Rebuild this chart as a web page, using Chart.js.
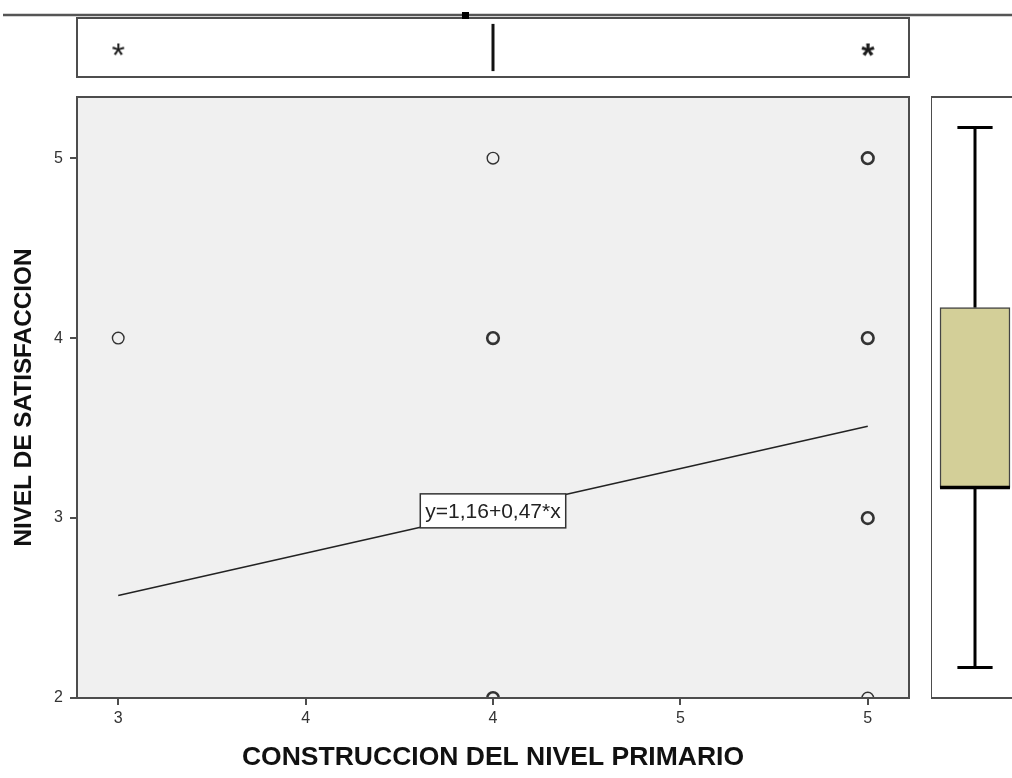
<!DOCTYPE html>
<html>
<head>
<meta charset="utf-8">
<script src="https://cdn.jsdelivr.net/npm/chart.js@4.4.1/dist/chart.umd.min.js"></script>
<style>
  html, body { margin: 0; padding: 0; background: #ffffff; width: 1012px; height: 778px; overflow: hidden; }
  #wrap { position: relative; width: 1012px; height: 778px; overflow: hidden; }
  canvas { position: absolute; }
</style>
</head>
<body>
<div id="wrap">
  <canvas id="main" width="1012" height="778" style="left:0;top:0"></canvas>
  <canvas id="top" width="1012" height="90" style="left:0;top:0"></canvas>
  <canvas id="right" width="88" height="620" style="left:931px;top:90px"></canvas>
</div>
<script>
// ---------------- DATA ----------------
const xTitle = 'CONSTRUCCION DEL NIVEL PRIMARIO';
const yTitle = 'NIVEL DE SATISFACCION';
const xTickValues = [3, 3.5, 4, 4.5, 5];
const xTickLabels = ['3', '4', '4', '5', '5'];
const yTickValues = [2, 3, 4, 5];
const yTickLabels = ['2', '3', '4', '5'];
const xRange = [2.89, 5.11];
const yRange = [2, 5.34];

// scatter points (x = construccion, y = satisfaccion) and overlap weight
const pointX = [3, 4, 4, 4, 5, 5, 5, 5];
const pointY = [4, 5, 4, 2, 5, 4, 3, 2];
const pointOverlap = [1, 1, 3, 2, 3, 3, 3, 1];

// fitted line
const fitX = [3, 5];
const fitY = [2.57, 3.51];
const fitLabel = 'y=1,16+0,47*x';
const fitLabelPos = [4, 3.04];

// top marginal boxplot (x variable)
const topMedian = 4;
const topExtremes = [3, 5];
const topExtremeBold = [false, true];

// right marginal boxplot (y variable)
const rightWhiskerLow = 2.17;
const rightQ1 = 3.17;
const rightMedian = 3.17;
const rightQ3 = 4.17;
const rightWhiskerHigh = 5.17;

// ---------------- STYLE ----------------
const FONT = "'Liberation Sans', Arial, Helvetica, sans-serif";
const FRAME = '#4d4d4d';
const MARK = '#333333';

Chart.defaults.font.family = FONT;
Chart.defaults.animation = false;

const framePlugin = {
  id: 'frame',
  beforeDraw(chart, args, opts) {
    const a = chart.chartArea, ctx = chart.ctx;
    ctx.save();
    ctx.fillStyle = opts.fill || '#ffffff';
    ctx.fillRect(a.left, a.top, a.right - a.left, a.bottom - a.top);
    ctx.restore();
  },
  afterDraw(chart, args, opts) {
    const a = chart.chartArea, ctx = chart.ctx;
    ctx.save();
    ctx.strokeStyle = FRAME;
    ctx.lineWidth = 2;
    ctx.strokeRect(a.left, a.top, a.right - a.left, a.bottom - a.top);
    ctx.restore();
  }
};

// ---------------- MAIN SCATTER ----------------
const fitLabelPlugin = {
  id: 'fitLabel',
  afterDatasetsDraw(chart) {
    const ctx = chart.ctx;
    const px = chart.scales.x.getPixelForValue(fitLabelPos[0]);
    const py = chart.scales.y.getPixelForValue(fitLabelPos[1]);
    ctx.save();
    ctx.font = '21px ' + FONT;
    const w = ctx.measureText(fitLabel).width + 10;
    const h = 34;
    ctx.fillStyle = '#ffffff';
    ctx.fillRect(px - w / 2, py - h / 2, w, h);
    ctx.strokeStyle = '#333333';
    ctx.lineWidth = 1.5;
    ctx.strokeRect(px - w / 2, py - h / 2, w, h);
    ctx.fillStyle = '#222222';
    ctx.textAlign = 'center';
    ctx.textBaseline = 'middle';
    ctx.fillText(fitLabel, px, py + 1);
    ctx.restore();
  }
};

new Chart(document.getElementById('main'), {
  type: 'scatter',
  data: {
    datasets: [
      {
        data: pointX.map((x, i) => ({ x, y: pointY[i] })),
        pointStyle: 'circle',
        pointRadius: 5.8,
        pointBackgroundColor: 'rgba(0,0,0,0)',
        pointBorderColor: MARK,
        pointBorderWidth: pointOverlap.map(c => c > 1 ? 2.6 : 1.4),
        clip: 0
      },
      {
        type: 'line',
        data: fitX.map((x, i) => ({ x, y: fitY[i] })),
        borderColor: '#222222',
        borderWidth: 1.5,
        pointRadius: 0,
        fill: false
      }
    ]
  },
  options: {
    responsive: false,
    devicePixelRatio: 1,
    layout: { padding: { top: 97, right: 103, left: 0, bottom: 0 } },
    plugins: {
      legend: { display: false },
      tooltip: { enabled: false },
      frame: { fill: '#f0f0f0' }
    },
    scales: {
      x: {
        type: 'linear',
        min: xRange[0], max: xRange[1],
        afterBuildTicks(s) { s.ticks = xTickValues.map(v => ({ value: v })); },
        afterFit(s) { s.height = 80; },
        ticks: {
          color: '#333333',
          font: { size: 16 },
          padding: 4,
          callback(v, i) { return xTickLabels[i]; }
        },
        grid: { display: true, drawOnChartArea: false, drawTicks: true, tickLength: 7, color: FRAME, lineWidth: 2 },
        border: { display: true, color: FRAME, width: 2 },
        title: { display: true, text: xTitle, color: '#111111', font: { size: 26.5, weight: 'bold' }, padding: { top: 0, bottom: 4 } }
      },
      y: {
        type: 'linear',
        min: yRange[0], max: yRange[1],
        afterBuildTicks(s) { s.ticks = yTickValues.map(v => ({ value: v })); },
        afterFit(s) { s.width = 77; },
        ticks: {
          color: '#333333',
          font: { size: 16 },
          padding: 7,
          callback(v, i) { return yTickLabels[i]; }
        },
        grid: { display: true, drawOnChartArea: false, drawTicks: true, tickLength: 7, color: FRAME, lineWidth: 2 },
        border: { display: true, color: FRAME, width: 2 },
        title: { display: true, text: yTitle, color: '#111111', font: { size: 24.3, weight: 'bold' }, padding: { top: 10, bottom: 0 } }
      }
    }
  },
  plugins: [framePlugin, fitLabelPlugin]
});

// ---------------- TOP BOXPLOT ----------------
function starImage(bold) {
  const c = document.createElement('canvas');
  c.width = 24; c.height = 24;
  const g = c.getContext('2d');
  g.fillStyle = '#1a1a1a';
  g.font = (bold ? 'bold ' : '') + '34px ' + FONT;
  g.textAlign = 'center';
  g.textBaseline = 'middle';
  g.fillText('*', 12, 22);
  return c;
}

const topDecor = {
  id: 'topDecor',
  afterDraw(chart) {
    const ctx = chart.ctx;
    ctx.save();
    ctx.strokeStyle = '#555555';
    ctx.lineWidth = 2.5;
    ctx.beginPath();
    ctx.moveTo(3, 15);
    ctx.lineTo(1012, 15);
    ctx.stroke();
    ctx.fillStyle = '#000000';
    ctx.fillRect(462, 12, 7, 7);
    ctx.restore();
  }
};

new Chart(document.getElementById('top'), {
  type: 'scatter',
  data: {
    datasets: [
      {
        data: topExtremes.map(x => ({ x, y: 0.5 })),
        pointStyle: topExtremeBold.map(b => starImage(b)),
        pointRadius: 12
      },
      {
        type: 'line',
        data: [{ x: topMedian, y: 0.1 }, { x: topMedian, y: 0.9 }],
        borderColor: '#111111',
        borderWidth: 3,
        pointRadius: 0,
        fill: false
      }
    ]
  },
  options: {
    responsive: false,
    devicePixelRatio: 1,
    layout: { padding: { top: 18, right: 103, left: 77, bottom: 10 } },
    plugins: { legend: { display: false }, tooltip: { enabled: false }, frame: { fill: '#ffffff' } },
    scales: {
      x: { type: 'linear', display: false, min: xRange[0], max: xRange[1] },
      y: { type: 'linear', display: false, min: 0, max: 1 }
    }
  },
  plugins: [framePlugin, topDecor]
});

// ---------------- RIGHT BOXPLOT ----------------
const boxHalf = 0.795;
const capHalf = 0.4;
const lineDs = (pts, w) => ({
  type: 'line',
  data: pts.map(p => ({ x: p[0], y: p[1] })),
  borderColor: '#000000',
  borderWidth: w,
  pointRadius: 0,
  fill: false,
  order: 0
});

new Chart(document.getElementById('right'), {
  type: 'bar',
  data: {
    datasets: [
      lineDs([[0, rightQ3], [0, rightWhiskerHigh]], 3),
      lineDs([[0, rightWhiskerLow], [0, rightQ1]], 3),
      lineDs([[-capHalf, rightWhiskerHigh], [capHalf, rightWhiskerHigh]], 3),
      lineDs([[-capHalf, rightWhiskerLow], [capHalf, rightWhiskerLow]], 3),
      lineDs([[-boxHalf, rightMedian], [boxHalf, rightMedian]], 3.5),
      {
        type: 'bar',
        data: [{ x: 0, y: [rightQ1, rightQ3] }],
        backgroundColor: '#d3cf98',
        borderColor: '#444444',
        borderWidth: 1.5,
        borderSkipped: false,
        barThickness: 70,
        order: 2
      }
    ]
  },
  options: {
    responsive: false,
    devicePixelRatio: 1,
    layout: { padding: { top: 7, right: 0, left: 0, bottom: 12 } },
    plugins: { legend: { display: false }, tooltip: { enabled: false }, frame: { fill: '#ffffff' } },
    scales: {
      x: { type: 'linear', display: false, min: -1, max: 1, offset: false },
      y: { type: 'linear', display: false, min: yRange[0], max: yRange[1] }
    }
  },
  plugins: [framePlugin]
});
</script>
</body>
</html>
